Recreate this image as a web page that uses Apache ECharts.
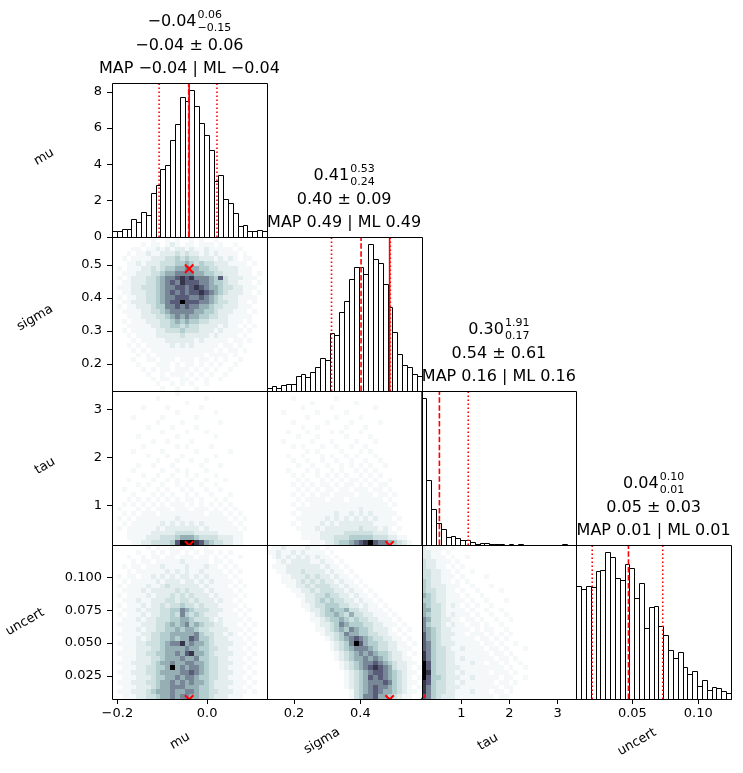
<!DOCTYPE html>
<html>
<head>
<meta charset="utf-8">
<script src="https://cdn.jsdelivr.net/npm/echarts@6/dist/echarts.min.js"></script>
<style>
html, body { margin: 0; padding: 0; background: #fff; }
#chart { width: 743px; height: 773px; }
</style>
</head>
<body>
<div id="chart"></div>
<script>
// parameter names and axis ranges
var names = ["mu", "sigma", "tau", "uncert"];
var axisMin = [-0.212, 0.118, 0.167, 0.0074];
var axisMax = [0.133, 0.584, 3.39, 0.1248];

// tick values
var xTicks = [[-0.2, 0.0], [0.2, 0.4], [1, 2, 3], [0.05, 0.10]];
var xDec = [1, 1, 0, 2];
var yTicks = [[0, 2, 4, 6, 8], [0.2, 0.3, 0.4, 0.5], [1, 2, 3], [0.025, 0.050, 0.075, 0.100]];
var yDec = [0, 1, 0, 3];

// 1D histograms (32 bins over the axis range); mu in density units, others relative
var muHist = [0.33, 0.33, 0.46, 0.46, 0.97, 0.82, 1.36, 1.19, 2.42, 2.84, 3.74, 3.99, 5.37, 6.2, 7.73, 7.47,
              8.08, 7.2, 6.3, 5.6, 4.8, 3.1, 3.4, 2.1, 1.9, 1.3, 0.6, 0.65, 0.33, 0.33, 0.4, 0.35];
var sigmaHist = [0.022, 0.030, 0.022, 0.037, 0.048, 0.045, 0.097, 0.11, 0.089, 0.123, 0.154, 0.212, 0.199, 0.374, 0.364, 0.511,
                 0.582, 0.725, 0.803, 0.807, 0.76, 0.952, 0.859, 0.829, 0.693, 0.548, 0.381, 0.24, 0.171, 0.154, 0.11, 0.097];
var tauHist = [0.957, 0.426, 0.232, 0.145, 0.102, 0.05, 0.058, 0.048, 0.032, 0.032, 0.017, 0.006, 0.01, 0.01, 0.006, 0.004,
               0.006, 0.003, 0.006, 0.002, 0.004, 0.003, 0.002, 0.003, 0.001, 0.002, 0.003, 0.002, 0.001, 0.004, 0.002, 0.002];
var uncertHist = [0.734, 0.712, 0.734, 0.729, 0.831, 0.838, 0.952, 0.924, 0.788, 0.773, 0.874, 0.848, 0.658, 0.751, 0.459, 0.595,
                  0.604, 0.476, 0.416, 0.318, 0.264, 0.303, 0.206, 0.16, 0.182, 0.087, 0.123, 0.058, 0.076, 0.069, 0.052, 0.037];

// summary values (red lines / markers)
var meanVals = [-0.041, 0.402, 0.54, 0.047];
var loVals = [-0.107, 0.313, -0.07, 0.0195];
var hiVals = [0.022, 0.490, 1.14, 0.073];
var mapVals = [-0.040, 0.488, 0.16, 0.0070];

// title texts
var medText = ["\u22120.04", "0.41", "0.30", "0.04"];
var upText = ["0.06", "0.53", "1.91", "0.10"];
var lowText = ["\u22120.15", "0.24", "0.17", "0.01"];
var meanText = ["\u22120.04 \u00b1 0.06", "0.40 \u00b1 0.09", "0.54 \u00b1 0.61", "0.05 \u00b1 0.03"];
var mapText = ["MAP \u22120.04 | ML \u22120.04", "MAP 0.49 | ML 0.49", "MAP 0.16 | ML 0.16", "MAP 0.01 | ML 0.01"];

// 2D histograms: count level 0-9, rows from top (high y) to bottom, 32 columns
var heatMuSigma = [
  "00000000 10010100 10100100 00000000",
  "00000010 11012101 10111010 01000000",
  "00001101 12121221 21121111 10100000",
  "00010112 11222323 22121211 11010000",
  "00101111 22233434 33222121 21011000",
  "00011212 22333445 43433222 11110100",
  "01011122 32344556 55443322 22111000",
  "00111222 33455666 65544332 22111010",
  "01012223 34566787 86665473 22211100",
  "00112223 34567687 77665443 22111010",
  "01112233 34566776 78765543 32211100",
  "00112223 34567676 77876543 22211010",
  "01011223 34566777 66765432 22111100",
  "00112223 34567797 77665433 22110100",
  "01011222 34466767 66554332 22111000",
  "00111122 33456666 65544322 21110100",
  "00011122 23345656 55443322 11111000",
  "00101112 22334545 44332222 11101000",
  "00011111 22334434 33222212 11010100",
  "00101111 12233343 33222121 11101000",
  "00010111 12222232 22221211 11010000",
  "00001011 11122222 21211111 01101000",
  "00010101 11112121 21111101 10100000",
  "00001010 11111111 11111010 11010000",
  "00000101 01111111 11101111 01000000",
  "00001001 10111011 10110101 00100000",
  "00000100 01110101 10101010 01000000",
  "00000010 10110111 01010100 10000000",
  "00000001 00101110 10101001 00000000",
  "00000000 10110011 01010010 00000000",
  "00000000 01001010 10010000 00000000",
  "00000000 00100100 01000000 00000000"
];
var heatMuTau = [
  "00000000 00000100 00000000 00000000",
  "00000000 01000000 00010000 00000000",
  "00000000 00000001 00000000 00000000",
  "00000010 00010000 00100000 00000000",
  "00000000 00000100 00000100 00000000",
  "00001000 00100000 01000000 00000000",
  "00000000 01000010 00000010 00000000",
  "00000001 00001000 01000000 00000000",
  "00000000 00100001 00010000 00000000",
  "00000100 00000100 00000100 00000000",
  "00000000 10010000 10000000 00000000",
  "00000010 00000101 00001000 00000000",
  "00001000 00100000 01000000 10000000",
  "00000001 00010010 00000100 00000000",
  "00000000 01000100 10010000 00000000",
  "00000100 10001000 00100010 00000000",
  "00001000 00100101 00010000 00000000",
  "00000010 01001001 01000100 00000000",
  "00010000 10010100 10010001 00000000",
  "00000101 00100101 00100100 00000000",
  "00100010 01010010 10010010 00000000",
  "00001000 10101001 01001000 10000000",
  "00010101 01010101 10100101 00000000",
  "00101010 10101110 10101010 10000000",
  "01000101 01110111 01110101 01000000",
  "00101011 10111111 11101110 10100000",
  "01010111 11111211 11111111 01010000",
  "00101111 11212121 21211111 10100000",
  "01011111 12122222 22121111 11010000",
  "00011111 22222333 32222211 11100000",
  "00011112 22333455 54333322 21100000",
  "00001122 33334799 98754332 21100000"
];
var heatMuUncert = [
  "00000001 01001010 10010000 00000000",
  "00000100 10101101 01011010 10000000",
  "00010010 11011011 10110101 00100000",
  "00001011 01111121 11110110 10000000",
  "00101101 11211112 11121101 01000000",
  "00010111 11121212 11211110 10100000",
  "01011011 21212122 12121111 01000000",
  "00101111 12122212 21212111 10100000",
  "01011112 11232222 22121111 01010000",
  "00111121 22222323 22212111 10100000",
  "01011112 12223232 32221211 11010000",
  "00111211 22233233 23222121 10100000",
  "01011121 22323343 32322211 11010000",
  "00111212 22334465 43332221 10101000",
  "01011121 22334364 34322211 11010000",
  "00111212 23334455 43332121 11101000",
  "01111122 23345456 45433221 11010100",
  "00111212 23344545 54332222 11101000",
  "01111122 33445555 56433221 21010100",
  "00111212 33445455 76443222 11101000",
  "01111223 33456685 65543222 21110100",
  "00111222 33455556 55443322 11101000",
  "01111223 34455657 85543222 21110100",
  "00111222 33455565 56443322 11101000",
  "01112222 34556556 65543322 21110100",
  "00111223 34459565 66543322 11101000",
  "01112223 34555566 76543322 21110100",
  "00111222 34455656 65443322 11101000",
  "01112223 34556565 65543222 21110100",
  "00111222 34556665 55443222 11101000",
  "01112223 45556556 65443322 21110100",
  "00111223 34556566 55443222 11100000"
];
var heatSigmaTau = [
  "00000000 00000000 00000000 00000000",
  "00000100 00000010 00000000 00000000",
  "00000000 01000000 00100000 00000000",
  "00000001 00000100 00000010 00000000",
  "00010000 00100000 10000000 00000000",
  "00000000 10000010 00010000 00000000",
  "00000100 00001000 01000001 00000000",
  "00000001 00100000 10001000 00000000",
  "00001000 10000101 00010000 00000000",
  "00000010 00100000 10000100 00000000",
  "00010000 01000100 00100010 00000000",
  "00000101 00010010 01001000 00000000",
  "00000000 10100001 00010100 00000000",
  "00001001 00010100 10100010 00000000",
  "00000100 10010010 01001001 00000000",
  "00000010 01001001 01010100 10000000",
  "00001000 10100101 00101010 00000000",
  "00000101 00101010 10010101 00000000",
  "00000010 10010101 01101010 01000000",
  "00000101 01011010 11010101 10000000",
  "00000010 10101101 10111011 01000000",
  "00000101 01011011 11011101 10100000",
  "00000010 11110111 01111111 01000000",
  "00000101 01111111 11111111 10100000",
  "00000011 11111111 11121111 11000000",
  "00000101 11111121 12121211 11100000",
  "00000011 11112121 21212121 11010000",
  "00000101 11121212 22222211 11100000",
  "00000011 11212222 22232221 21010000",
  "00000001 11122222 33333322 21100000",
  "00000001 11122233 34444433 32211000",
  "00000000 01112234 45678976 65432100"
];
var heatSigmaUncert = [
  "01121111 21101000 00000000 00000000",
  "11211212 11110100 00000000 00000000",
  "01212121 21211010 00000000 00000000",
  "00121222 21121101 00000000 00000000",
  "01112222 22212110 10000000 00000000",
  "00112223 22221211 01000000 00000000",
  "00011222 32322121 10100000 00000000",
  "00011123 23232212 11010000 00000000",
  "00001122 32333221 21101000 00000000",
  "00000112 23233322 12110100 00000000",
  "00000011 22334332 21211010 00000000",
  "00000001 22343433 22121101 00000000",
  "00000001 12334443 32212110 10000000",
  "00000000 12234544 53322111 01000000",
  "00000000 01234454 35332211 10100000",
  "00000000 01123445 43433221 11010000",
  "00000000 00122346 54443322 11101000",
  "00000000 00112345 46544322 21010100",
  "00000000 00012234 65544332 21101000",
  "00000000 00001234 56765433 22110100",
  "00000000 00000123 46975443 32211010",
  "00000000 00000123 45666543 32211100",
  "00000000 00000012 34565654 43221010",
  "00000000 00000012 34556565 43221100",
  "00000000 00000001 23456676 54322110",
  "00000000 00000001 23456787 65322101",
  "00000000 00000000 12345677 65432110",
  "00000000 00000000 12345767 65432101",
  "00000000 00000000 12345666 76432110",
  "00000000 00000000 12345676 65432101",
  "00000000 00000000 01345676 55432110",
  "00000000 00000000 01346675 54321100"
];
var heatTauUncert = [
  "21111010 00000000 00000000 00000000",
  "22110100 00000000 00000000 00000000",
  "22111010 01000000 00000000 00000000",
  "32211101 00000000 00000000 00000000",
  "32211010 10000000 00000000 00000000",
  "33221101 00100000 00000000 00000000",
  "33221110 10000100 00000000 00000000",
  "43221101 01000000 00000000 00000000",
  "43222111 00100010 00000000 00000000",
  "43322110 10010000 10000000 00000000",
  "54322111 01001000 00000000 00000000",
  "44322111 10100100 01000000 00000000",
  "54332121 01010010 00000000 00000000",
  "55332111 10100100 10000000 00000000",
  "54332121 11010010 01000000 00000000",
  "65332211 01101001 00100000 00000000",
  "64332121 10110100 10000000 00000000",
  "65432211 11010110 01000000 00000000",
  "75432221 10111010 10100000 00000000",
  "75432211 11101101 01000000 00000000",
  "76432221 11110110 10010000 00000000",
  "76433211 21111011 01000100 00000000",
  "86433221 11111101 10100000 00000000",
  "86433221 21111110 11010000 00000000",
  "97433221 11211011 01001000 00000000",
  "97433222 11111111 10100100 00000000",
  "98433221 21111101 11010000 00000000",
  "97443222 11211111 01100100 00000000",
  "87433221 21111110 11010000 00000000",
  "86433222 11111111 01100000 00000000",
  "86433221 11211101 10100000 00000000",
  "76432221 11111110 11000000 00000000"
];

var hists = [muHist, sigmaHist, tauHist, uncertHist];
var heats = {"1,0": heatMuSigma, "2,0": heatMuTau, "3,0": heatMuUncert,
             "2,1": heatSigmaTau, "3,1": heatSigmaUncert, "3,2": heatTauUncert};

// layout
var FONT = "DejaVu Sans";
var PL = 112, PT = 83, PW = 154.75, PH = 154;
var NB = 32;

// matplotlib bone colormap, reversed
function seg(pts, x) {
    for (var i = 1; i < pts.length; i++) {
        if (x <= pts[i][0]) {
            var a = pts[i - 1], b = pts[i];
            return a[1] + (b[1] - a[1]) * (x - a[0]) / (b[0] - a[0]);
        }
    }
    return pts[pts.length - 1][1];
}
function boneR(t) {
    var x = 1 - t;
    var r = seg([[0, 0], [0.746032, 0.652778], [1, 1]], x);
    var g = seg([[0, 0], [0.365079, 0.319444], [0.746032, 0.777778], [1, 1]], x);
    var b = seg([[0, 0], [0.365079, 0.444444], [1, 1]], x);
    return "rgb(" + Math.round(r * 255) + "," + Math.round(g * 255) + "," + Math.round(b * 255) + ")";
}
var levelT = [0, 0.03, 0.08, 0.14, 0.22, 0.33, 0.46, 0.6, 0.76, 1];

function fmt(v, d) {
    return v.toFixed(d).replace("-", "\u2212");
}

function heatData(rows, c, r) {
    var dx = (axisMax[c] - axisMin[c]) / NB, dy = (axisMax[r] - axisMin[r]) / NB;
    var out = [];
    rows.forEach(function (s, i) {
        s = s.replace(/ /g, "");
        for (var j = 0; j < s.length; j++) {
            var lv = +s[j];
            if (!lv) continue;
            var x0 = axisMin[c] + j * dx, y1 = axisMax[r] - i * dy;
            out.push([x0, y1 - dy, x0 + dx, y1, lv]);
        }
    });
    return out;
}

function histData(vals, c) {
    var dx = (axisMax[c] - axisMin[c]) / NB;
    return vals.map(function (h, i) {
        return [axisMin[c] + i * dx, 0, axisMin[c] + (i + 1) * dx, h];
    });
}

var grids = [], xAxes = [], yAxes = [], series = [];
var k = 0;
for (var r = 0; r < 4; r++) {
    for (var c = 0; c <= r; c++) {
        grids.push({left: PL + c * PW, top: PT + r * PH, width: PW, height: PH});
        var bottom = (r === 3), left = (c === 0);
        (function (xd) {
            xAxes.push({
                gridIndex: k, type: "value", min: axisMin[c], max: axisMax[c],
                axisLine: {show: false, onZero: false}, splitLine: {show: false},
                axisTick: {show: bottom, customValues: xTicks[c], length: 5, lineStyle: {color: "#000", width: 1}},
                axisLabel: {show: bottom, customValues: xTicks[c], margin: 8, color: "#000", fontSize: 13, fontFamily: FONT,
                    formatter: function (v) { return fmt(v, xd); }}
            });
        })(xDec[c]);
        var ymin, ymax, yd;
        if (r === c) {
            ymin = 0;
            ymax = Math.max.apply(null, hists[c]) * 1.05;
            yd = 0;
        } else {
            ymin = axisMin[r];
            ymax = axisMax[r];
            yd = yDec[r];
        }
        var yt = yTicks[r];
        (function (yd2) {
            yAxes.push({
                gridIndex: k, type: "value", min: ymin, max: ymax,
                axisLine: {show: false, onZero: false}, splitLine: {show: false},
                axisTick: {show: left, customValues: yt, length: 5, lineStyle: {color: "#000", width: 1}},
                axisLabel: {show: left, customValues: yt, margin: 10, color: "#000", fontSize: 13, fontFamily: FONT,
                    formatter: function (v) { return fmt(v, yd2); }}
            });
        })(yd);

        if (r === c) {
            series.push({
                type: "custom", xAxisIndex: k, yAxisIndex: k, silent: true, animation: false,
                encode: {x: [0, 2], y: [1, 3]},
                data: histData(hists[c], c),
                renderItem: function (params, api) {
                    var a = api.coord([api.value(0), api.value(1)]);
                    var b = api.coord([api.value(2), api.value(3)]);
                    var x0 = Math.round(a[0]) + 0.5, x1 = Math.round(b[0]) + 0.5;
                    var yb = Math.round(a[1]) + 0.5, yt2 = Math.round(b[1]) + 0.5;
                    return {type: "rect", shape: {x: x0, y: yt2, width: x1 - x0, height: yb - yt2},
                        style: {fill: "#fff", stroke: "#000", lineWidth: 1}};
                }
            });
            (function (ytop) {
                series.push({
                    type: "custom", xAxisIndex: k, yAxisIndex: k, silent: true, animation: false, clip: true, z: 5,
                    data: [[loVals[c], 2], [hiVals[c], 2], [meanVals[c], 1], [mapVals[c], 0]],
                    renderItem: function (params, api) {
                        var v = api.value(0), kind = api.value(1);
                        var p0 = api.coord([v, 0]), p1 = api.coord([v, ytop]);
                        var dash = kind === 2 ? [1.5, 2.5] : (kind === 1 ? [5.5, 2.4] : null);
                        return {type: "line", shape: {x1: p0[0], y1: p0[1], x2: p1[0], y2: p1[1]},
                            style: {stroke: "#ff0000", lineWidth: 1.6, lineDash: dash}};
                    }
                });
            })(ymax);
        } else {
            series.push({
                type: "custom", xAxisIndex: k, yAxisIndex: k, silent: true, animation: false, clip: true,
                encode: {x: [0, 2], y: [1, 3]},
                data: heatData(heats[r + "," + c], c, r),
                renderItem: function (params, api) {
                    var a = api.coord([api.value(0), api.value(1)]);
                    var b = api.coord([api.value(2), api.value(3)]);
                    var x0 = Math.round(a[0]), x1 = Math.round(b[0]);
                    var y0 = Math.round(b[1]), y1 = Math.round(a[1]);
                    return {type: "rect", shape: {x: x0, y: y0, width: x1 - x0, height: y1 - y0},
                        style: {fill: boneR(levelT[api.value(4)])}};
                }
            });
            series.push({
                type: "custom", xAxisIndex: k, yAxisIndex: k, silent: true, animation: false, clip: true, z: 6,
                data: [[mapVals[c], mapVals[r]]],
                renderItem: function (params, api) {
                    var p = api.coord([api.value(0), api.value(1)]);
                    var s = 4.2;
                    return {type: "group", children: [
                        {type: "line", shape: {x1: p[0] - s, y1: p[1] - s, x2: p[0] + s, y2: p[1] + s},
                            style: {stroke: "#ff0000", lineWidth: 2}},
                        {type: "line", shape: {x1: p[0] - s, y1: p[1] + s, x2: p[0] + s, y2: p[1] - s},
                            style: {stroke: "#ff0000", lineWidth: 2}}
                    ]};
                }
            });
        }
        // panel frame
        (function (x0v, x1v, y0v, y1v) {
            series.push({
                type: "custom", xAxisIndex: k, yAxisIndex: k, silent: true, animation: false, z: 10,
                data: [[x0v, y0v]],
                renderItem: function (params, api) {
                    var a = api.coord([x0v, y0v]), b = api.coord([x1v, y1v]);
                    var xa = Math.round(a[0]) + 0.5, xb = Math.round(b[0]) + 0.5;
                    var ya = Math.round(a[1]) + 0.5, yb = Math.round(b[1]) + 0.5;
                    return {type: "rect", shape: {x: xa, y: yb, width: xb - xa, height: ya - yb},
                        style: {fill: null, stroke: "#000", lineWidth: 1}};
                }
            });
        })(axisMin[c], axisMax[c], ymin, ymax);
        k++;
    }
}

// titles and axis names
var ctx = document.createElement("canvas").getContext("2d");
function textW(t, size) {
    ctx.font = size + "px \"" + FONT + "\"";
    return ctx.measureText(t).width;
}
var graphics = [];
function txt(t, x, y, size, align, rot) {
    graphics.push({type: "text", x: x, y: y, rotation: rot || 0,
        style: {text: t, font: size + "px \"" + FONT + "\"", fill: "#000", align: align || "center", verticalAlign: "middle"}});
}
for (var c2 = 0; c2 < 4; c2++) {
    var T = PT + c2 * PH, cx = PL + c2 * PW + PW / 2;
    var wm = textW(medText[c2], 16);
    var ws = Math.max(textW(upText[c2], 11), textW(lowText[c2], 11));
    var x0 = cx - (wm + 1 + ws) / 2;
    txt(medText[c2], x0, T - 61, 16, "left");
    txt(upText[c2], x0 + wm + 1, T - 68, 11, "left");
    txt(lowText[c2], x0 + wm + 1, T - 55, 11, "left");
    txt(meanText[c2], cx, T - 37, 16, "center");
    txt(mapText[c2], cx, T - 14, 16, "center");
}
var rot = Math.PI / 6;
var yNamePos = [[44, 157], [35, 318], [45, 466], [25, 622]];
var xNamePos = [[180, 741], [322, 741], [488, 742], [637, 742]];
for (var n = 0; n < 4; n++) {
    txt(names[n], yNamePos[n][0], yNamePos[n][1], 13, "center", rot);
    txt(names[n], xNamePos[n][0], xNamePos[n][1], 13, "center", rot);
}

var chart = echarts.init(document.getElementById("chart"));
chart.setOption({
    animation: false,
    grid: grids,
    xAxis: xAxes,
    yAxis: yAxes,
    series: series,
    graphic: graphics
});
</script>
</body>
</html>
